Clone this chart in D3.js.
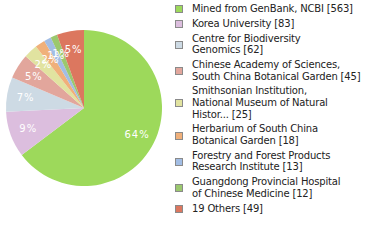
<!DOCTYPE html>
<html><head><meta charset="utf-8">
<script src="https://cdn.jsdelivr.net/npm/d3@7"></script>
<style>html,body{margin:0;padding:0;background:#fff;}svg{display:block;}</style>
</head><body>
<script>
const labels = [
  ["Mined from GenBank, NCBI [563]"],
  ["Korea University [83]"],
  ["Centre for Biodiversity", "Genomics [62]"],
  ["Chinese Academy of Sciences,", "South China Botanical Garden [45]"],
  ["Smithsonian Institution,", "National Museum of Natural", "Histor... [25]"],
  ["Herbarium of South China", "Botanical Garden [18]"],
  ["Forestry and Forest Products", "Research Institute [13]"],
  ["Guangdong Provincial Hospital", "of Chinese Medicine [12]"],
  ["19 Others [49]"]
];
const counts = [563, 83, 62, 45, 25, 18, 13, 12, 49];
const colors = ["#9dd95b", "#dcbede", "#cddae4", "#e2a69c", "#e1e3a0", "#f0b07a", "#a2bde4", "#9bc86e", "#dc775f"];

const W = 380, H = 240;
const svg = d3.select("body").append("svg").attr("width", W).attr("height", H);

const cx = 84, cy = 108, r = 78;
const total = d3.sum(counts);
const pie = d3.pie().sort(null).value(d => d)(counts);
const arc = d3.arc().innerRadius(0).outerRadius(r);
const labelArc = d3.arc().innerRadius(r * 0.76).outerRadius(r * 0.76);

const g = svg.append("g").attr("transform", `translate(${cx},${cy})`);
g.selectAll("path").data(pie).join("path")
  .attr("d", arc).attr("fill", (d, i) => colors[i]);

g.selectAll("text").data(pie).join("text")
  .attr("transform", d => `translate(${labelArc.centroid(d)})`)
  .attr("text-anchor", "middle").attr("dy", "0.35em")
  .attr("fill", "#fff")
  .style("font-family", "DejaVu Sans, Verdana, sans-serif")
  .style("font-size", "10px").style("letter-spacing", "1px")
  .text(d => Math.floor(d.value / total * 100) + "%");

// legend
const lh = 11.6, gap = 3.2;
let y = 3;
const lg = svg.append("g");
labels.forEach((lines, i) => {
  const h = lines.length * lh;
  const mid = y + h / 2;
  lg.append("rect").attr("x", 175.5).attr("y", Math.round(mid - 3.5) + 0.5)
    .attr("width", 7).attr("height", 7)
    .attr("fill", colors[i]).attr("stroke", "#8a8a8a").attr("stroke-width", 1);
  const t = lg.append("text")
    .style("font-family", "DejaVu Sans, Verdana, sans-serif")
    .style("font-size", "10px").style("letter-spacing", "-0.17px").attr("fill", "#222");
  lines.forEach((s, j) => {
    t.append("tspan").attr("x", 192).attr("y", y + (j + 1) * lh - 2.6).text(s);
  });
  y += h + gap;
});
</script>
</body></html>
